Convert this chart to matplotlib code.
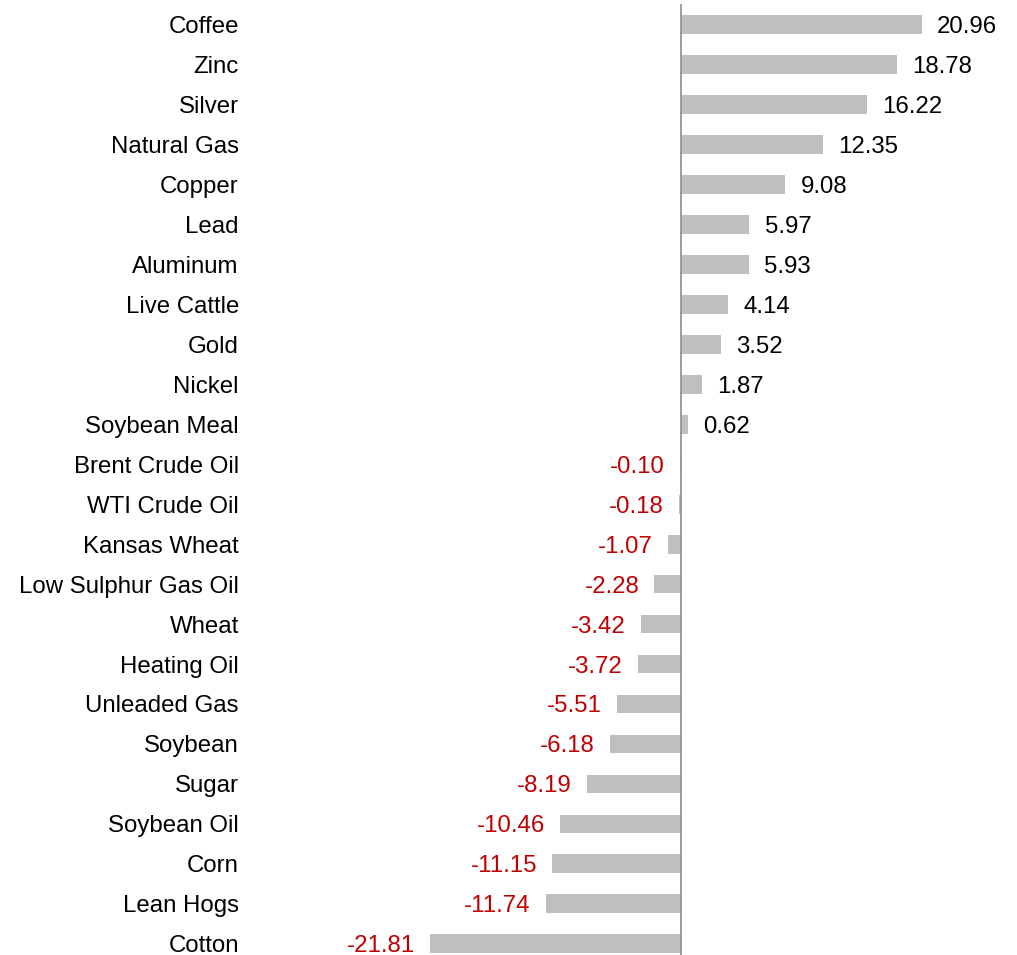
import matplotlib
matplotlib.use("Agg")
import matplotlib.pyplot as plt

# commodity returns (%), top to bottom as shown
names = ["Coffee", "Zinc", "Silver", "Natural Gas", "Copper", "Lead", "Aluminum",
         "Live Cattle", "Gold", "Nickel", "Soybean Meal", "Brent Crude Oil",
         "WTI Crude Oil", "Kansas Wheat", "Low Sulphur Gas Oil", "Wheat",
         "Heating Oil", "Unleaded Gas", "Soybean", "Sugar", "Soybean Oil",
         "Corn", "Lean Hogs", "Cotton"]
values = [20.96, 18.78, 16.22, 12.35, 9.08, 5.97, 5.93, 4.14, 3.52, 1.87, 0.62,
          -0.10, -0.18, -1.07, -2.28, -3.42, -3.72, -5.51, -6.18, -8.19, -10.46,
          -11.15, -11.74, -21.81]

plt.rcParams['font.family'] = ['Liberation Sans', 'DejaVu Sans']
FS = 17.3

W, H = 1017, 955
fig = plt.figure(figsize=(W / 100, H / 100), dpi=100)
ax = fig.add_axes([250 / W, 0, 1 - 250 / W, 951 / H])

pos = list(range(len(names)))
ax.barh(pos, values, height=0.47, color="#BFBFBF", zorder=2)
ax.axvline(0, color="#8C8C8C", lw=1.2, zorder=3)

for p, v in zip(pos, values):
    if v >= 0:
        ax.annotate(f"{v:.2f}", (v, p), xytext=(11, 0), textcoords="offset points",
                    ha="left", va="center_baseline", fontsize=FS, color="black")
    else:
        ax.annotate(f"{v:.2f}", (v, p), xytext=(-11, 0), textcoords="offset points",
                    ha="right", va="center_baseline", fontsize=FS, color="#C00000")

ax.set_yticks(pos)
ax.set_yticklabels(names, fontsize=FS, va="center_baseline")
ax.tick_params(axis="y", length=0, pad=8)
ax.set_xticks([])
ax.set_xlim(-37.45, 29.24)
ax.set_ylim(23.28, -0.513)
for s in ax.spines.values():
    s.set_visible(False)

fig.savefig("out.png", dpi=100)
